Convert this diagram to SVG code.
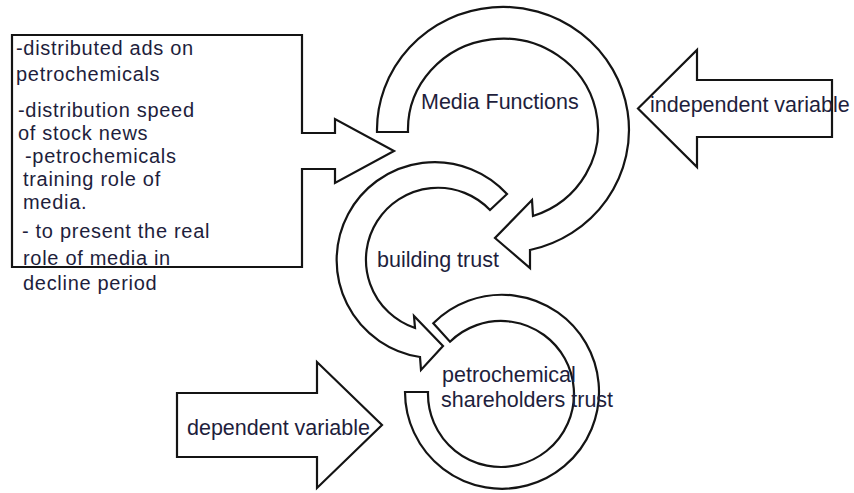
<svg xmlns="http://www.w3.org/2000/svg" width="854" height="493" viewBox="0 0 854 493">
<style>
.shape{fill:#ffffff;stroke:#141414;stroke-width:2.2;stroke-linejoin:miter}
.t{font-family:"Liberation Sans",Arial,sans-serif;font-size:21.5px;fill:#1e1e3c}
.b{font-size:20px;letter-spacing:0.7px}
</style>
<rect width="854" height="493" fill="#ffffff"/>
<g id="independent-variable">
<path class="shape" d="M638,108.5 L697,50 L697,80 L832,80 L832,137 L697,137 L697,167 Z"/>
<text class="t" x="650" y="112">independent variable</text>
</g>
<g id="dependent-variable">
<path class="shape" d="M177,393 L317,393 L317,362 L382,425 L317,488 L317,457 L177,457 Z"/>
<text class="t" x="187" y="435">dependent variable</text>
</g>
<g id="connectors">
<path id="arc-media" class="shape" d="M377,132 A126,123 0 1 1 530,250 L530,268 L495,238 L532,200 L533,216 A95,91 0 1 0 408,132 Z"/>
<path id="arc-building" class="shape" d="M507,194 A98,98 0 1 0 420,357 L421,370 L443,346 L414,316 L415,328 A72,72 0 1 1 490,210 Z"/>
<path id="arc-shareholders" class="shape" d="M433.3,323.3 A97,97 0 1 1 405,392 L428,392 A73,73 0 1 0 450,341.7 Z"/>
</g>
<g id="factors">
<path class="shape" d="M12,35 L302,35 L302,133 L335,133 L335,119 L394,151 L335,183 L335,169 L302,169 L302,267 L12,267 Z"/>
<text class="t b" x="16" y="55">-distributed ads on</text>
<text class="t b" x="16" y="81">petrochemicals</text>
<text class="t b" x="18" y="117">-distribution speed</text>
<text class="t b" x="18" y="140">of stock news</text>
<text class="t b" x="25" y="163">-petrochemicals</text>
<text class="t b" x="23" y="186">training role of</text>
<text class="t b" x="23" y="209">media.</text>
<text class="t b" x="22" y="238">- to present the real</text>
<text class="t b" x="23" y="265">role of media in</text>
<text class="t b" x="23" y="290">decline period</text>
</g>
<g id="media-functions">
<text class="t" x="421" y="109">Media Functions</text>
</g>
<g id="building-trust">
<text class="t" x="377" y="267">building trust</text>
</g>
<g id="shareholders-trust">
<text class="t" x="442" y="382">petrochemical</text>
<text class="t" x="441" y="407">shareholders trust</text>
</g>
</svg>
